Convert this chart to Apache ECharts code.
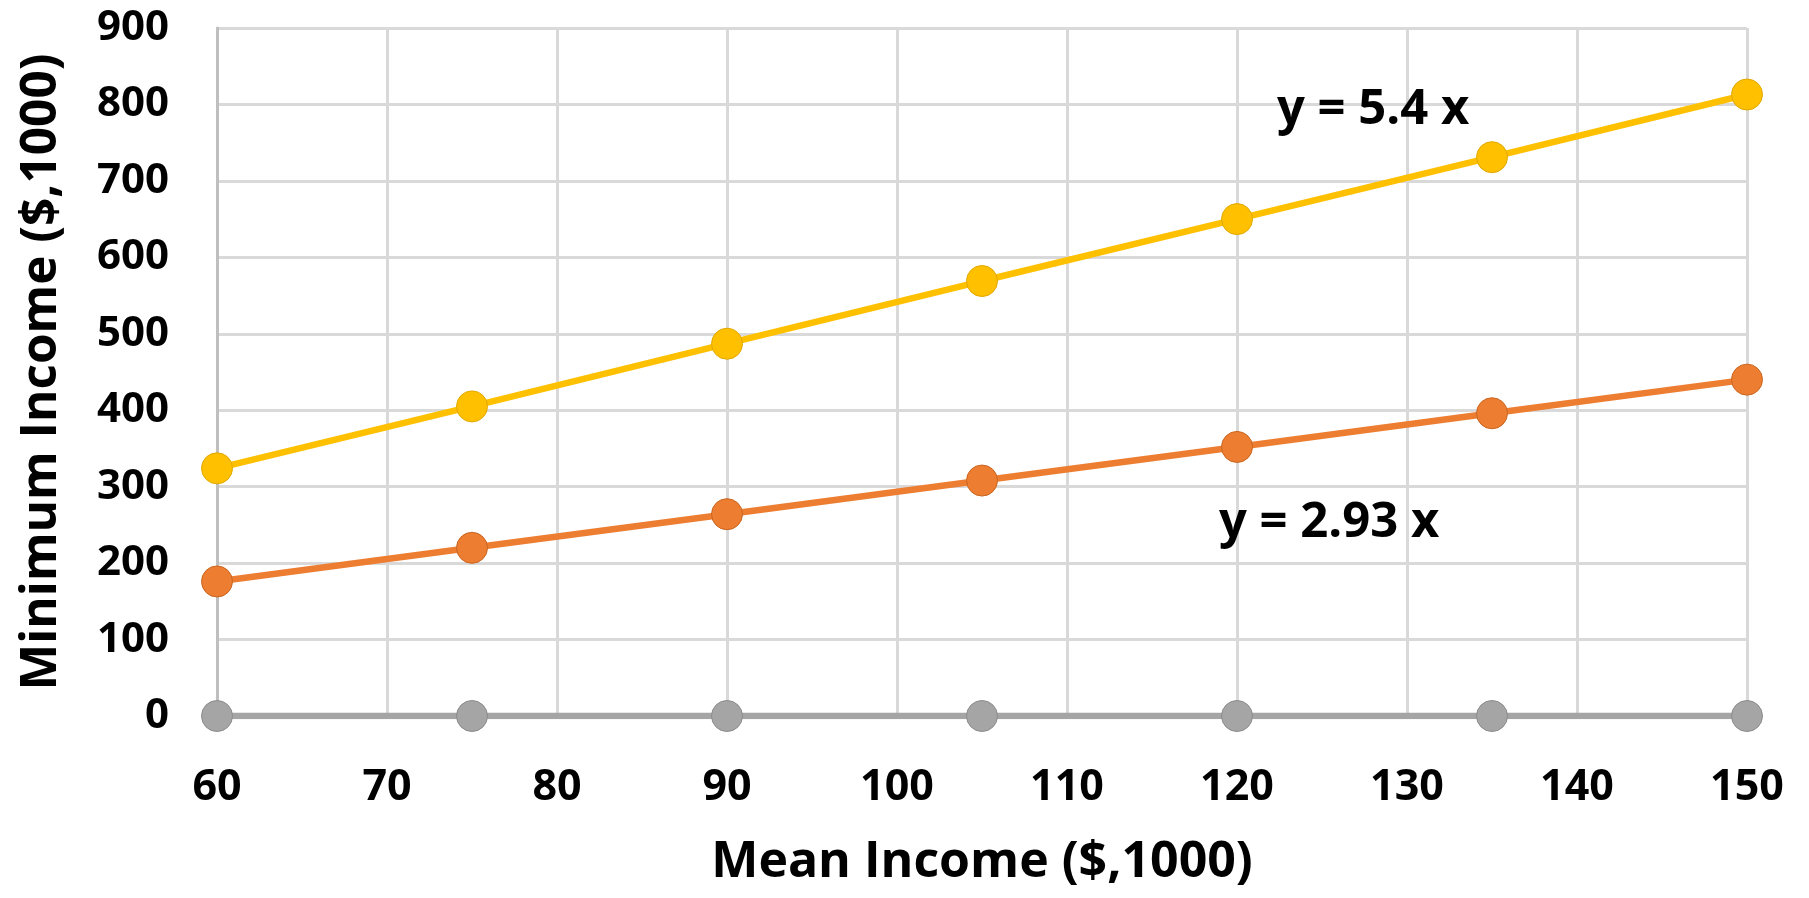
<!DOCTYPE html>
<html><head><meta charset="utf-8">
<script src="https://cdn.jsdelivr.net/npm/echarts@6/dist/echarts.min.js"></script>
<style>html,body{margin:0;padding:0;background:#fff}#c{width:1809px;height:898px}</style>
</head><body><div id="c"></div>
<script>
const meanIncome = [60, 75, 90, 105, 120, 135, 150];
const upperSeries = [324, 405, 487, 569, 650, 731, 813];
const lowerSeries = [176, 220, 264, 308, 352, 396, 440];
const zeroSeries = [0, 0, 0, 0, 0, 0, 0];
const upperLabel = 'y = 5.4 x';
const lowerLabel = 'y = 2.93 x';
const xTitle = 'Mean Income ($,1000)';
const yTitle = 'Minimum Income ($,1000)';

const FONT = '"Open Sans", sans-serif';
const pairs = arr => meanIncome.map((x, i) => [x, arr[i]]);
const chart = echarts.init(document.getElementById('c'), null, {renderer: 'canvas'});
function series(data, color, border) {
  return {type: 'line', data: pairs(data), symbol: 'circle', symbolSize: 31,
    lineStyle: {color, width: 6.5}, itemStyle: {color, borderColor: border, borderWidth: 1}, z: 3, animation: false};
}
chart.setOption({
  animation: false,
  grid: {left: 217, right: 1809 - 1747, top: 28, bottom: 898 - 716, containLabel: false},
  xAxis: {type: 'value', min: 60, max: 150, interval: 10,
    name: xTitle, nameLocation: 'middle', nameGap: 122,
    nameTextStyle: {fontFamily: FONT, fontWeight: 'bold', fontSize: 50, color: '#000'},
    axisLine: {show: true, lineStyle: {color: '#BFBFBF', width: 3}},
    axisTick: {show: false},
    axisLabel: {fontFamily: FONT, fontWeight: 'bold', fontSize: 43, color: '#000', margin: 50},
    splitLine: {show: true, lineStyle: {color: '#D9D9D9', width: 3}}},
  yAxis: {type: 'value', min: 0, max: 900, interval: 100,
    name: yTitle, nameLocation: 'middle', nameGap: 150, nameRotate: 90,
    nameTextStyle: {fontFamily: FONT, fontWeight: 'bold', fontSize: 49.5, color: '#000'},
    axisLine: {show: true, lineStyle: {color: '#BFBFBF', width: 3}},
    axisTick: {show: false},
    axisLabel: {fontFamily: FONT, fontWeight: 'bold', fontSize: 42, color: '#000', margin: 48},
    splitLine: {show: true, lineStyle: {color: '#D9D9D9', width: 3}}},
  series: [series(upperSeries, '#FFC000', '#E0A800'), series(lowerSeries, '#ED7D31', '#C96520'), series(zeroSeries, '#A5A5A5', '#8C8C8C')],
  graphic: [
    {type: 'text', left: 1277, top: 86, z: 10,
      style: {text: upperLabel, font: 'bold 49px ' + FONT, fill: '#000'}},
    {type: 'text', left: 1219, top: 499, z: 10,
      style: {text: lowerLabel, font: 'bold 49px ' + FONT, fill: '#000'}}
  ]
});
</script></body></html>
